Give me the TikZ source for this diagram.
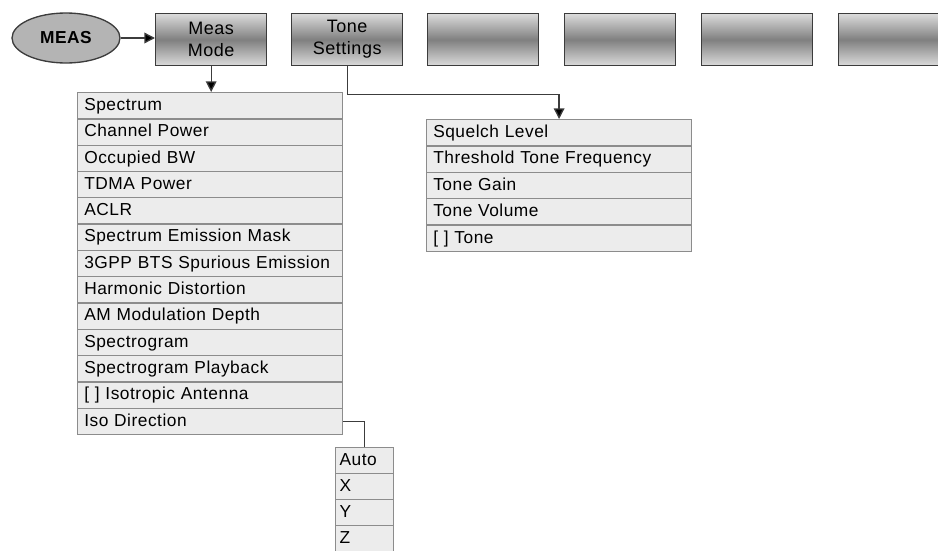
\documentclass[tikz,border=0pt]{standalone}
\usepackage{fontspec}
\setmainfont{Liberation Sans}[LetterSpace=3]
\usetikzlibrary{shapes.geometric, arrows.meta, positioning, calc}
\definecolor{rowfill}{HTML}{ECECEC}
\definecolor{rowline}{HTML}{8C8C8C}
\definecolor{keyline}{HTML}{3C3C3C}
\definecolor{keyfill}{HTML}{B4B4B4}
\tikzset{
  hardkey/.style={ellipse, draw=keyline, line width=1pt, fill=keyfill, minimum width=81pt, minimum height=37.5pt, inner sep=0pt, font=\fontsize{13}{15}\selectfont\bfseries},
  softkey/.style={rectangle, draw=keyline, line width=1pt, top color=gray!28, bottom color=gray!28, middle color=gray, anchor=north west, minimum width=83.25pt, minimum height=39pt, inner sep=0pt, align=center, font=\fontsize{13.5}{16.5}\selectfont},
  menurow/.style={rectangle, draw=rowline, line width=0.9pt, fill=rowfill, anchor=north west, minimum height=19.7pt, inner xsep=5pt, inner ysep=0pt, text height=9.5pt, text depth=2.5pt, align=left},
  link/.style={-{Triangle[length=8pt, width=8pt, fill=black]}, line width=1pt, draw=keyline},
  wire/.style={line width=1pt, draw=keyline},
}
\begin{document}
\begin{tikzpicture}[x=0.75pt, y=-0.75pt, font=\fontsize{13}{15}\selectfont]
  \useasboundingbox (0,0) rectangle (938,550);
  \clip (0,0) rectangle (938,550);
  % top row of keys
  \node[hardkey] (meas) at (66,38) {MEAS};
  \node[softkey] (mode) at (155,13) {Meas\\Mode};
  \node[softkey] (tone) at (291,13) {Tone\\Settings};
  \foreach \i in {1,...,4} {
    \node[softkey] (blank\i) at ({427+137*(\i-1)},13) {};
  }
  % Meas Mode menu
  \foreach \i/\txt in {1/Spectrum, 2/Channel Power, 3/Occupied BW, 4/TDMA Power, 5/ACLR,
      6/Spectrum Emission Mask, 7/3GPP BTS Spurious Emission, 8/Harmonic Distortion,
      9/AM Modulation Depth, 10/Spectrogram, 11/Spectrogram Playback,
      12/{[ ] Isotropic Antenna}, 13/Iso Direction} {
    \node[menurow, text width=188.75pt] (mm\i) at (77,{92+26.3*(\i-1)}) {\txt};
  }
  % Tone Settings menu
  \foreach \i/\txt in {1/Squelch Level, 2/Threshold Tone Frequency, 3/Tone Gain,
      4/Tone Volume, 5/{[ ] Tone}} {
    \node[menurow, text width=188.75pt] (ts\i) at (426,{119+26.4*(\i-1)}) {\txt};
  }
  % Iso Direction submenu
  \foreach \i/\txt in {1/Auto, 2/X, 3/Y, 4/Z} {
    \node[menurow, text width=37.5pt, inner xsep=3pt] (iso\i) at (335,{447+26*(\i-1)}) {\txt};
  }
  % connectors
  \draw[link] (meas.east) -- (meas.east -| mode.west);
  \draw[link] (mode.south) -- (mode.south |- mm1.north);
  \draw[link] (tone.south) -- ++(0,28) -| (ts1.north);
  \draw[wire] (mm13.east) -| (iso1.north);
\end{tikzpicture}
\end{document}
